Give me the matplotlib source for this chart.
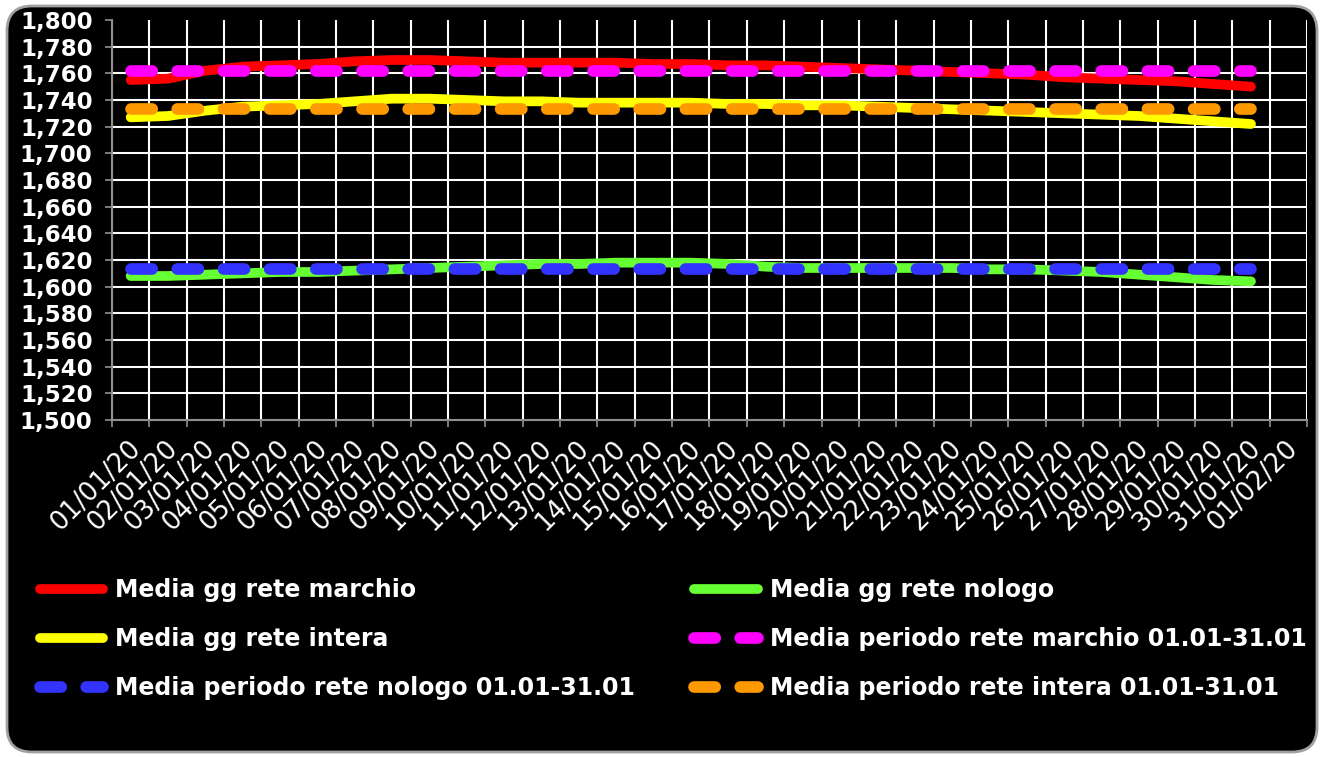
import matplotlib
matplotlib.use('Agg')
import matplotlib.pyplot as plt
import matplotlib.transforms as mtransforms
from matplotlib.patches import FancyBboxPatch

# etichette asse x (categorie giornaliere)
dates = ['%02d/01/20' % d for d in range(1, 32)] + ['01/02/20']

# medie giornaliere (01/01 - 31/01)
gg_marchio = [1755, 1756, 1762, 1765, 1766, 1767, 1769, 1770, 1770, 1769,
              1768, 1768, 1768, 1768, 1767, 1767, 1766, 1766, 1765, 1764,
              1763, 1762, 1761, 1760, 1759, 1757, 1756, 1755, 1754, 1752, 1750]
gg_nologo = [1608, 1608, 1609, 1610, 1611, 1611, 1612, 1613, 1614, 1615,
             1616, 1617, 1617, 1618, 1618, 1618, 1617, 1615, 1614, 1614,
             1614, 1614, 1614, 1613, 1613, 1612, 1611, 1609, 1607, 1605, 1604]
gg_intera = [1727, 1728, 1732, 1735, 1736, 1737, 1739, 1741, 1741, 1740,
             1739, 1739, 1738, 1738, 1738, 1738, 1737, 1737, 1736, 1736,
             1735, 1734, 1733, 1732, 1731, 1730, 1729, 1728, 1726, 1724, 1722]

# medie di periodo 01.01-31.01
periodo_marchio = 1762
periodo_nologo = 1613
periodo_intera = 1733

labels = ['Media gg rete marchio', 'Media gg rete nologo', 'Media gg rete intera',
          'Media periodo rete marchio 01.01-31.01',
          'Media periodo rete nologo 01.01-31.01',
          'Media periodo rete intera 01.01-31.01']

fig = plt.figure(figsize=(13.22, 7.57), dpi=100)
fig.patch.set_facecolor('white')

# cornice arrotondata nera
frame = FancyBboxPatch((0.07, 0.05), 13.10, 7.46,
                       boxstyle='round,pad=0,rounding_size=0.25',
                       transform=fig.dpi_scale_trans,
                       facecolor='black', edgecolor='#a0a0a0', linewidth=2,
                       zorder=-1)
fig.add_artist(frame)

ax = fig.add_axes([112 / 1322, 1 - 420 / 757, (1307 - 112) / 1322, 400 / 757])
ax.set_facecolor('black')

n = len(gg_marchio)
x = list(range(n))
solid = dict(linewidth=7, solid_capstyle='round', solid_joinstyle='round')
dashed = dict(linewidth=8.4, dashes=(1.82, 2.14), dash_capstyle='round')

l1, = ax.plot(x, gg_marchio, color='#ff0000', **solid)
l2, = ax.plot(x, gg_nologo, color='#66ff33', **solid)
l3, = ax.plot(x, gg_intera, color='#ffff00', **solid)
l4, = ax.plot(x, [periodo_marchio] * n, color='#ff00ff', **dashed)
l5, = ax.plot(x, [periodo_nologo] * n, color='#3333ff', **dashed)
l6, = ax.plot(x, [periodo_intera] * n, color='#ff9900', **dashed)

ax.set_xlim(-0.5, len(dates) - 0.5)
ax.set_ylim(1500, 1800)
ax.set_yticks(range(1500, 1801, 20))
ax.set_yticklabels(['{:,}'.format(v) for v in range(1500, 1801, 20)])
ax.set_xticks(range(len(dates)))
ax.set_xticklabels(dates)
ax.set_xticks([i - 0.5 for i in range(len(dates) + 1)], minor=True)

ax.grid(axis='y', color='white', linewidth=1.5)
ax.grid(axis='x', which='minor', color='white', linewidth=1.5)
ax.get_ygridlines()[-1].set_visible(False)
ax.get_ygridlines()[0].set_visible(False)
ax.set_axisbelow(True)

for s in ['top', 'right']:
    ax.spines[s].set_visible(False)
for s in ['left', 'bottom']:
    ax.spines[s].set_color('#909090')
    ax.spines[s].set_linewidth(1.5)

ax.tick_params(axis='y', colors='#909090', length=5, width=1.2, pad=9,
               labelcolor='white', labelsize=16.5)
ax.tick_params(axis='x', which='major', length=0, pad=18, labelcolor='white',
               labelsize=18.5)
ax.tick_params(axis='x', which='minor', length=5, width=1.2, colors='#909090')
for t in ax.get_yticklabels():
    t.set_fontweight('bold')
shift = mtransforms.ScaledTranslation(6 / 100, 0, fig.dpi_scale_trans)
for t in ax.get_xticklabels():
    t.set_rotation(45)
    t.set_rotation_mode('anchor')
    t.set_ha('right')
    t.set_va('center')
    t.set_transform(t.get_transform() + shift)

# legenda su due colonne (riempimento per colonna)
leg = fig.legend([l1, l3, l5, l2, l4, l6],
                 [labels[0], labels[2], labels[4], labels[1], labels[3], labels[5]],
                 ncol=2, loc='upper left', bbox_to_anchor=(39.5 / 1322, 1 - 578 / 757),
                 frameon=False, borderpad=0, borderaxespad=0,
                 handlelength=2.7, handletextpad=0.5, labelspacing=1.06,
                 columnspacing=2.5,
                 prop={'weight': 'bold', 'size': 17})
for t in leg.get_texts():
    t.set_color('white')

fig.savefig('out.png', dpi=100, facecolor=fig.get_facecolor())
